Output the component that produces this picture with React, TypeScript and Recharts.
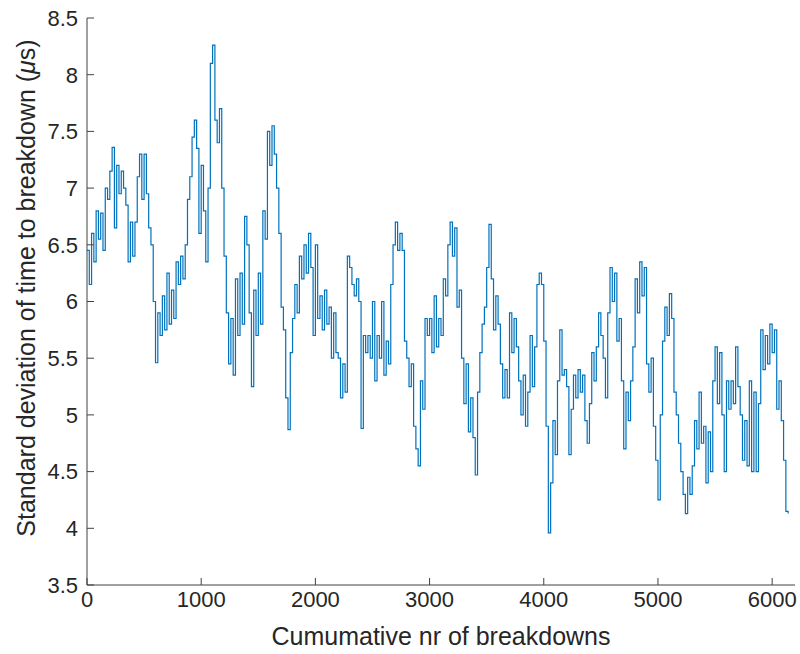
import { LineChart, Line, XAxis, YAxis, Customized } from 'recharts'

// sampled every 20 breakdowns (high/low swings of the running std)
const sampleStep = 20

const std0to1000 = [
  6.45, 6.15, 6.6, 6.35, 6.8,
  6.55, 6.78, 6.45, 7.0, 6.9,
  7.15, 7.36, 6.65, 7.2, 6.95,
  7.15, 7.0, 6.85, 6.35, 6.7,
  6.4, 6.7, 7.1, 7.3, 6.9,
  7.3, 6.95, 6.65, 6.5, 6.0,
  5.46, 5.9, 5.7, 6.05, 5.75,
  6.25, 5.8, 6.1, 5.85, 6.35,
  6.15, 6.4, 6.2, 6.5, 6.9,
  7.1, 7.45, 7.6, 7.35, 6.6,
]
const std1000to2000 = [
  7.2, 6.8, 6.35, 7.0, 8.1,
  8.26, 7.6, 7.4, 7.7, 7.0,
  6.4, 5.9, 5.45, 5.85, 5.35,
  6.2, 5.7, 6.25, 5.8, 6.75,
  6.5, 5.9, 5.25, 6.1, 5.7,
  6.25, 5.8, 6.8, 6.55, 7.5,
  7.2, 7.55, 7.3, 7.0, 6.6,
  5.95, 5.75, 5.15, 4.87, 5.55,
  5.85, 6.15, 5.9, 6.4, 6.2,
  6.5, 6.25, 6.6, 6.3, 5.7,
]
const std2000to3000 = [
  6.5, 5.85, 6.05, 5.75, 6.1,
  5.8, 5.95, 5.5, 5.9, 5.55,
  5.5, 5.15, 5.45, 5.2, 6.4,
  6.3, 6.15, 6.05, 6.2, 6.0,
  4.88, 5.7, 5.55, 5.7, 5.5,
  6.0, 5.3, 5.7, 5.5, 6.0,
  5.35, 5.65, 5.45, 6.15, 6.5,
  6.7, 6.45, 6.6, 6.45, 5.65,
  5.5, 5.25, 5.45, 4.9, 4.7,
  4.55, 5.3, 5.05, 5.85, 5.7,
]
const std3000to4000 = [
  5.85, 5.55, 6.05, 5.6, 5.85,
  5.7, 6.2, 6.05, 6.5, 6.7,
  6.4, 6.65, 5.95, 6.1, 5.5,
  5.1, 5.45, 4.85, 5.15, 4.8,
  4.47, 5.2, 5.55, 5.8, 5.95,
  6.3, 6.68, 6.2, 5.75, 6.05,
  5.8, 5.45, 5.15, 5.4, 5.15,
  5.9, 5.55, 5.85, 5.6, 5.3,
  5.0, 5.35, 4.9, 5.2, 5.7,
  5.25, 5.6, 6.15, 6.25, 6.15,
]
const std4000to5000 = [
  5.65, 4.9, 3.96, 4.4, 4.95,
  4.65, 5.3, 5.75, 5.35, 5.4,
  5.25, 4.65, 5.05, 5.35, 5.15,
  5.4, 5.2, 5.35, 4.95, 4.75,
  5.1, 5.55, 5.3, 5.6, 5.9,
  5.7, 5.5, 5.15, 5.9, 6.3,
  6.0, 6.25, 5.65, 5.85, 5.3,
  4.7, 5.2, 4.95, 5.3, 5.6,
  6.2, 5.9, 6.35, 6.05, 6.3,
  5.45, 5.2, 5.5, 4.9, 4.6,
]
const std5000toEnd = [
  4.25, 5.0, 5.65, 5.95, 5.7,
  6.07, 5.85, 5.2, 5.0, 4.75,
  4.5, 4.3, 4.13, 4.45, 4.3,
  4.55, 4.95, 4.7, 5.2, 4.75,
  4.9, 4.4, 4.85, 4.5, 5.3,
  5.6, 5.1, 5.55, 5.0, 4.5,
  5.3, 5.05, 5.3, 5.1, 5.6,
  5.25, 5.0, 4.6, 4.95, 4.55,
  5.3, 4.5, 5.2, 4.5, 5.1,
  5.75, 5.4, 5.7, 5.45, 5.8,
  5.55, 5.75, 5.05, 5.3, 4.95,
  4.6, 4.15, 4.13,
]

const xTicks = [0, 1000, 2000, 3000, 4000, 5000, 6000]
const yTicks = [3.5, 4, 4.5, 5, 5.5, 6, 6.5, 7, 7.5, 8, 8.5]

const stdValues = [
  ...std0to1000, ...std1000to2000, ...std2000to3000,
  ...std3000to4000, ...std4000to5000, ...std5000toEnd,
]
const data = stdValues.map((v, i) => ({ n: i * sampleStep, std: v }))

const FONT = '"Liberation Sans", Arial, Helvetica, sans-serif'
const AXIS = '#404040'
const TEXT = '#262626'

const tickStyle = { fontSize: 22, fill: TEXT, fontFamily: FONT }

function AxisTitles() {
  return (
    <g fontFamily={FONT} fill={TEXT} fontSize={25}>
      <text x={441} y={645} textAnchor="middle">Cumumative nr of breakdowns</text>
      <text x={35} y={288} textAnchor="middle" transform="rotate(-90 35 288)">
        Standard deviation of time to breakdown (<tspan fontStyle="italic">μ</tspan>s)
      </text>
    </g>
  )
}

export default function App() {
  return (
    <div style={{ position: 'absolute', left: 0, top: 0, background: '#fff' }}>
      <LineChart
        width={800}
        height={654}
        data={data}
        margin={{ top: 18, right: 5, bottom: 0, left: 0 }}
      >
        <XAxis
          dataKey="n"
          type="number"
          domain={[0, 6200]}
          ticks={xTicks}
          interval={0}
          height={69}
          tickSize={-7}
          tickMargin={13}
          tick={tickStyle}
          axisLine={{ stroke: AXIS }}
          tickLine={{ stroke: AXIS }}
          allowDataOverflow
        />
        <XAxis
          xAxisId="top"
          orientation="top"
          dataKey="n"
          type="number"
          domain={[0, 6200]}
          ticks={xTicks}
          interval={0}
          height={0}
          tickSize={-7}
          tick={false}
          axisLine={{ stroke: AXIS }}
          tickLine={{ stroke: AXIS }}
          allowDataOverflow
        />
        <YAxis
          type="number"
          domain={[3.5, 8.5]}
          ticks={yTicks}
          interval={0}
          width={87}
          tickSize={-7}
          tickMargin={16}
          tick={tickStyle}
          axisLine={{ stroke: AXIS }}
          tickLine={{ stroke: AXIS }}
          allowDataOverflow
        />
        <YAxis
          yAxisId="right"
          orientation="right"
          type="number"
          domain={[3.5, 8.5]}
          ticks={yTicks}
          interval={0}
          width={0}
          tickSize={-7}
          tick={false}
          axisLine={{ stroke: AXIS }}
          tickLine={{ stroke: AXIS }}
          allowDataOverflow
        />
        <Line
          type="stepAfter"
          dataKey="std"
          stroke="#0072BD"
          strokeWidth={1.2}
          dot={false}
          isAnimationActive={false}
        />
        <Customized component={AxisTitles} />
      </LineChart>
    </div>
  )
}
